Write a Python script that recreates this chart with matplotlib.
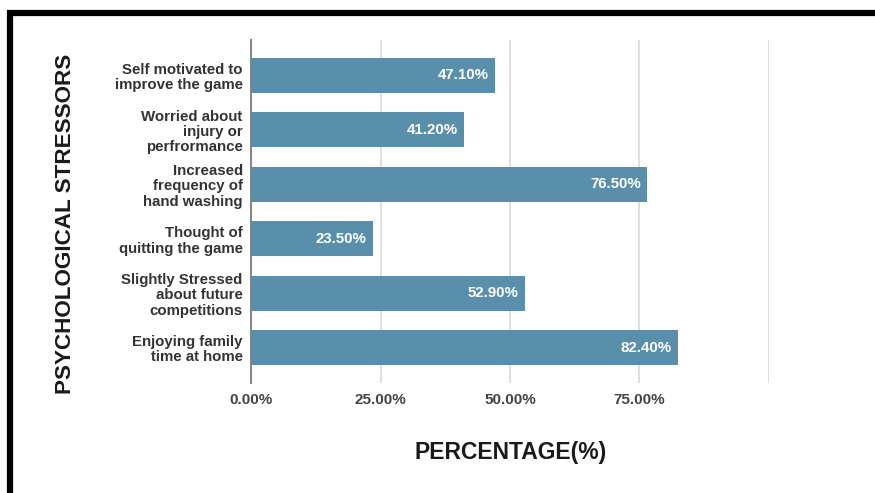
import matplotlib.pyplot as plt
from matplotlib.lines import Line2D

# Data
stressors = ['Self motivated to\nimprove the game',
             'Worried about\ninjury or\nperfrormance',
             'Increased\nfrequency of\nhand washing',
             'Thought of\nquitting the game',
             'Slightly Stressed\nabout future\ncompetitions',
             'Enjoying family\ntime at home']
percent = [47.1, 41.2, 76.5, 23.5, 52.9, 82.4]
xticks = [0, 25, 50, 75]
xtick_labels = ['0.00%', '25.00%', '50.00%', '75.00%']

plt.rcParams['font.family'] = ['Liberation Sans', 'DejaVu Sans']

fig = plt.figure(figsize=(8.75, 4.93), dpi=100)
ax = fig.add_axes([251/875, 1 - 383/493, (769 - 251)/875, (383 - 40)/493])

bar_color = '#5a8fac'
ypos = list(range(len(stressors)))
ax.barh(ypos, percent, height=0.64, color=bar_color, zorder=3)

for y, v in zip(ypos, percent):
    ax.text(v - 1.2, y, '%.2f%%' % v, ha='right', va='center', color='white',
            fontsize=10.8, fontweight='bold', zorder=4)

ax.set_xlim(0, 100)
ax.set_ylim(len(stressors) - 0.35, -0.65)
ax.set_yticks(ypos)
ax.set_yticklabels(stressors, fontsize=10.8, fontweight='bold', color='#333333',
                   linespacing=1.12)
ax.set_xticks(xticks)
ax.set_xticklabels(xtick_labels, fontsize=11, fontweight='bold', color='#444444')
ax.tick_params(axis='both', length=0)
ax.tick_params(axis='x', pad=7)
ax.tick_params(axis='y', pad=6)

# gridlines
for gx in [25, 50, 75, 100]:
    ax.axvline(gx, color='#d9d9d9', lw=1.2, zorder=1)
for s in ['top', 'right', 'bottom']:
    ax.spines[s].set_visible(False)
ax.spines['left'].set_color('#888888')
ax.spines['left'].set_linewidth(1.5)

fig.text(511/875, 1 - 452/493, 'PERCENTAGE(%)', ha='center', va='center',
         fontsize=16.5, fontweight='bold', color='#1a1a1a')
fig.text(66/875, 1 - 224/493, 'PSYCHOLOGICAL STRESSORS', ha='center', va='center',
         rotation=90, fontsize=16.2, fontweight='bold', color='#1a1a1a')

# black frame (screenshot border)
fig.add_artist(Line2D([10/875, 10/875], [0, 1 - 10/493], transform=fig.transFigure,
                      color='black', lw=4.5, solid_capstyle='butt'))
fig.add_artist(Line2D([7/875, 1], [1 - 13/493, 1 - 13/493], transform=fig.transFigure,
                      color='black', lw=4.5, solid_capstyle='butt'))

fig.savefig('out.png', dpi=100)
